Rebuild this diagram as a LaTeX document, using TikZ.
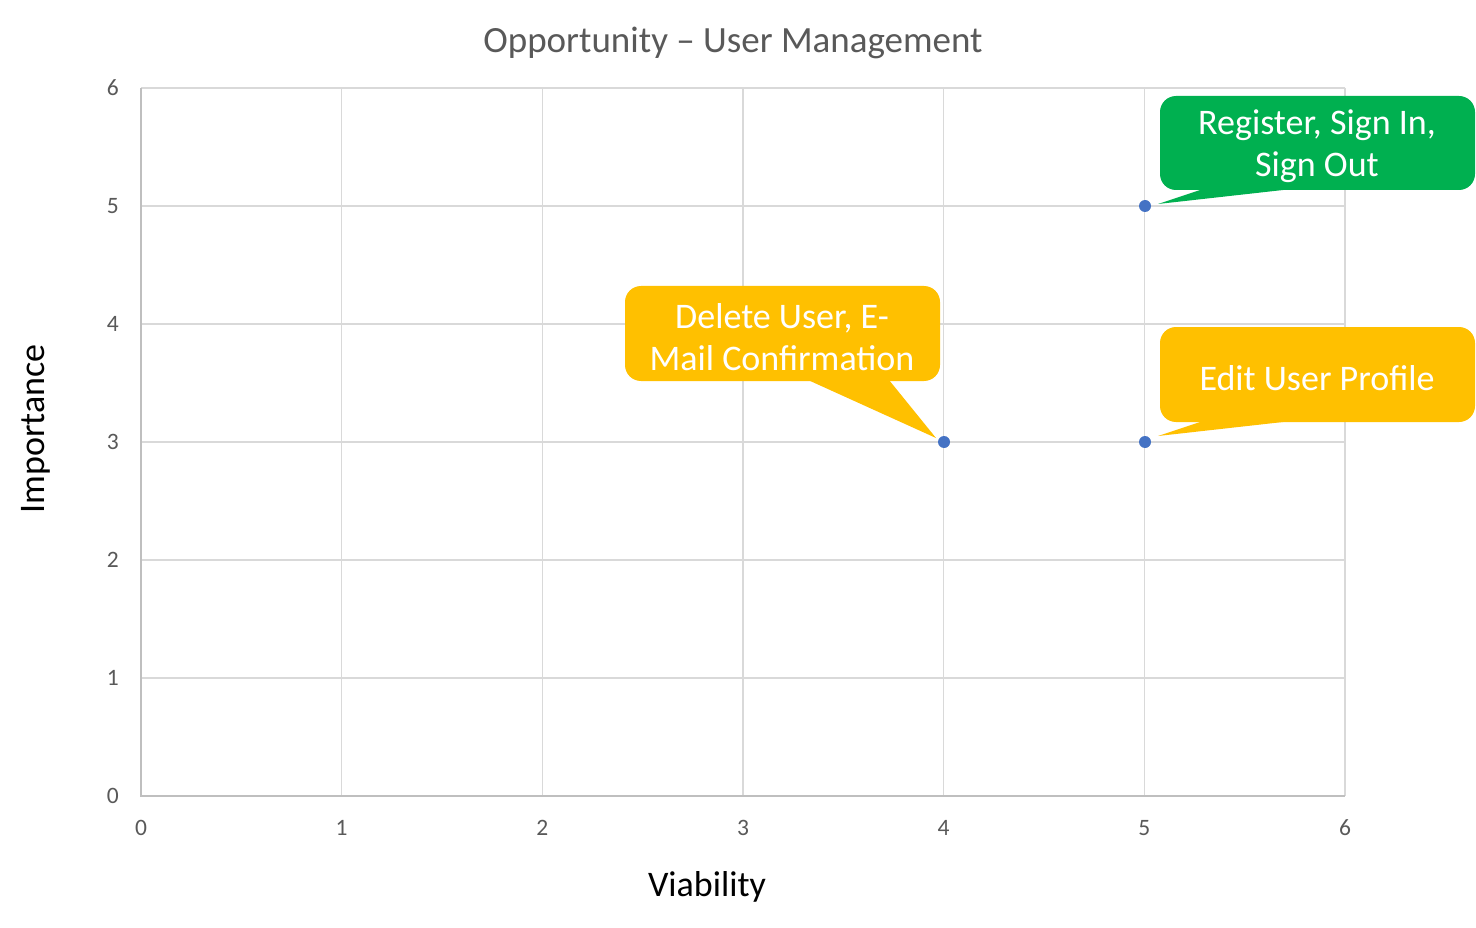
\documentclass[tikz,border=0pt]{standalone}
\usepackage{fontspec}
\setmainfont{Carlito}
\definecolor{gridc}{HTML}{D9D9D9}
\definecolor{axisc}{HTML}{BFBFBF}
\definecolor{txtc}{HTML}{595959}
\definecolor{dotc}{HTML}{4472C4}
\definecolor{greenc}{HTML}{00B050}
\definecolor{orangec}{HTML}{FFC000}
\begin{document}
\begin{tikzpicture}[x=1pt,y=-1pt,
  gridline/.style={draw=gridc,line width=1.6pt},
  axisline/.style={draw=axisc,line width=1.6pt},
  ticklbl/.style={text=txtc,font=\fontsize{23.5}{26}\selectfont,inner sep=0pt},
  axtitle/.style={text=black,font=\fontsize{36}{40}\selectfont,inner sep=0pt},
  dot/.style={circle,fill=dotc,minimum size=12pt,inner sep=0pt},
  calltext/.style={text=white,font=\fontsize{36}{42}\selectfont,align=center,inner sep=0pt}]
\useasboundingbox (0,0) rectangle (1476,928);
\fill[white] (0,0) rectangle (1476,928);
% title
\node[text=txtc,font=\fontsize{37}{40}\selectfont,inner sep=0pt] (title) at (733,43) {Opportunity – User Management};
% grid
\foreach \i in {1,...,6} {
  \draw[gridline] ({141+200.67*\i},88) -- ({141+200.67*\i},796);
}
\foreach \j in {1,...,6} {
  \draw[gridline] (141,{796-118*\j}) -- (1345,{796-118*\j});
}
\draw[axisline] (141,88) -- (141,796) -- (1345,796);
% tick labels
\foreach \j in {0,...,6} {
  \node[ticklbl,anchor=east] (y\j) at (119,{796-118*\j}) {\j};
}
\foreach \i in {0,...,6} {
  \node[ticklbl] (x\i) at ({141+200.67*\i},828) {\i};
}
% axis titles
\node[axtitle] (xtitle) at (707,887) {Viability};
\node[axtitle,rotate=90] (ytitle) at (36,429) {Importance};
% callouts
\fill[greenc,rounded corners=16pt] (1160,96) rectangle (1475,190);
\fill[greenc] (1203,189) -- (1158,204) -- (1292,189) -- cycle;
\node[calltext] (c1) at (1317,146) {Register, Sign In,\\Sign Out};
\fill[orangec,rounded corners=16pt] (1160,327) rectangle (1475,422);
\fill[orangec] (1203,421) -- (1158,436) -- (1292,421) -- cycle;
\node[calltext] (c2) at (1317,378) {Edit User Profile};
\fill[orangec,rounded corners=16pt] (625,286) rectangle (940,381);
\fill[orangec] (808,380) -- (936,438) -- (889,380) -- cycle;
\node[calltext] (c3) at (782,337) {Delete User, E-\\Mail Confirmation};
% points
\node[dot] (p1) at (944,442) {};
\node[dot] (p2) at (1145,206) {};
\node[dot] (p3) at (1145,442) {};
\end{tikzpicture}
\end{document}
